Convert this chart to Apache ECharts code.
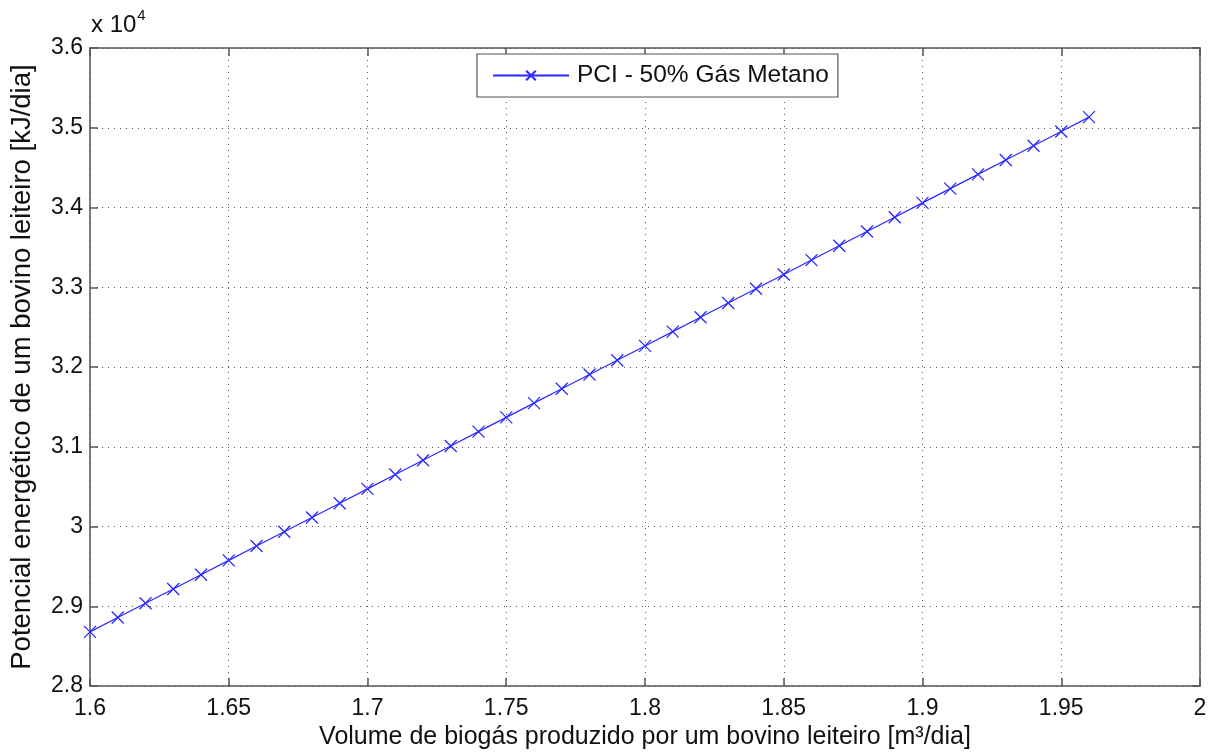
<!DOCTYPE html>
<html>
<head>
<meta charset="utf-8">
<script src="https://cdn.jsdelivr.net/npm/echarts@6/dist/echarts.min.js"></script>
<style>
  html, body { margin: 0; padding: 0; background: #fff; }
  #chart { width: 1220px; height: 755px; }
</style>
</head>
<body>
<div id="chart"></div>
<script>
// Biogas volume per dairy cow [m³/dia]
const volumes = [
  1.60, 1.61, 1.62, 1.63, 1.64, 1.65, 1.66, 1.67, 1.68, 1.69,
  1.70, 1.71, 1.72, 1.73, 1.74, 1.75, 1.76, 1.77, 1.78, 1.79,
  1.80, 1.81, 1.82, 1.83, 1.84, 1.85, 1.86, 1.87, 1.88, 1.89,
  1.90, 1.91, 1.92, 1.93, 1.94, 1.95, 1.96
];
// Energy potential [kJ/dia], PCI with 50% methane
const energy = [
  28680, 28859, 29039, 29218, 29397, 29576, 29756, 29935, 30114, 30293,
  30473, 30652, 30831, 31010, 31190, 31369, 31548, 31727, 31907, 32086,
  32265, 32444, 32624, 32803, 32982, 33161, 33341, 33520, 33699, 33878,
  34058, 34237, 34416, 34595, 34775, 34954, 35133
];
const seriesName = 'PCI - 50% Gás Metano';
const xTitle = 'Volume de biogás produzido por um bovino leiteiro [m³/dia]';
const yTitle = 'Potencial energético de um bovino leiteiro [kJ/dia]';
const yScaleNote = ['x 10', '4'];

const font = 'Liberation Sans, Arial, sans-serif';
const axisGray = '#555';
const blue = '#2828ff';
const crossPath = 'path://M0,0L10,10M10,0L0,10';

const chart = echarts.init(document.getElementById('chart'), null, { renderer: 'canvas' });

const tidy = v => String(parseFloat(v.toFixed(3)));

const baseAxis = {
  axisLine: { show: true, lineStyle: { color: axisGray, width: 1.5 } },
  axisTick: { show: true, inside: true, length: 8, lineStyle: { color: axisGray, width: 1.5 } },
  splitLine: { show: false }
};

chart.setOption({
  animation: false,
  backgroundColor: '#fff',
  grid: { left: 90, right: 20, top: 48, bottom: 67, containLabel: false },
  legend: {
    show: true,
    left: 477,
    top: 54,
    orient: 'horizontal',
    padding: [9, 9, 9, 15],
    itemWidth: 76,
    itemHeight: 12,
    itemGap: 6,
    backgroundColor: '#fff',
    borderColor: '#555',
    borderWidth: 1.2,
    textStyle: { fontFamily: font, fontSize: 24.5, color: '#111', padding: [0, 0, 0, 3] },
    data: [{ name: seriesName }]
  },
  xAxis: [
    Object.assign({}, baseAxis, {
      type: 'value', position: 'bottom', min: 1.6, max: 2, interval: 0.05,
      axisLabel: { fontFamily: font, fontSize: 23, color: '#111', margin: 11, formatter: v => tidy(v) },
      splitLine: { show: true, lineStyle: { color: '#555', width: 1, type: [1, 5] } },
      name: xTitle, nameLocation: 'middle', nameGap: 34,
      nameTextStyle: { fontFamily: font, fontSize: 25, color: '#111' }
    }),
    Object.assign({}, baseAxis, {
      type: 'value', position: 'top', min: 1.6, max: 2, interval: 0.05,
      axisLabel: { show: false }
    })
  ],
  yAxis: [
    Object.assign({}, baseAxis, {
      type: 'value', position: 'left', min: 28000, max: 36000, interval: 1000,
      axisLabel: { fontFamily: font, fontSize: 23, color: '#111', margin: 7, formatter: v => tidy(v / 10000) },
      splitLine: { show: true, lineStyle: { color: '#555', width: 1, type: [1, 5] } },
      name: yTitle, nameLocation: 'middle', nameGap: 54, nameRotate: 90,
      nameTextStyle: { fontFamily: font, fontSize: 27.5, color: '#111' }
    }),
    Object.assign({}, baseAxis, {
      type: 'value', position: 'right', min: 28000, max: 36000, interval: 1000,
      axisLabel: { show: false }
    })
  ],
  graphic: [{
    type: 'text',
    left: 91,
    top: 8,
    style: {
      text: '{b|' + yScaleNote[0] + '}{s|' + yScaleNote[1] + '}',
      rich: {
        b: { fontFamily: font, fontSize: 24, fill: '#111', verticalAlign: 'bottom' },
        s: { fontFamily: font, fontSize: 15, fill: '#111', verticalAlign: 'top', padding: [0, 0, 14, 1] }
      }
    }
  }],
  series: [{
    name: seriesName,
    type: 'line',
    xAxisIndex: 0,
    yAxisIndex: 0,
    data: volumes.map((v, i) => [v, energy[i]]),
    symbol: crossPath,
    symbolSize: 12,
    showSymbol: true,
    lineStyle: { color: blue, width: 1.2 },
    itemStyle: { color: 'transparent', borderColor: blue, borderWidth: 1.3 },
    emphasis: { disabled: true }
  }]
});
</script>
</body>
</html>
